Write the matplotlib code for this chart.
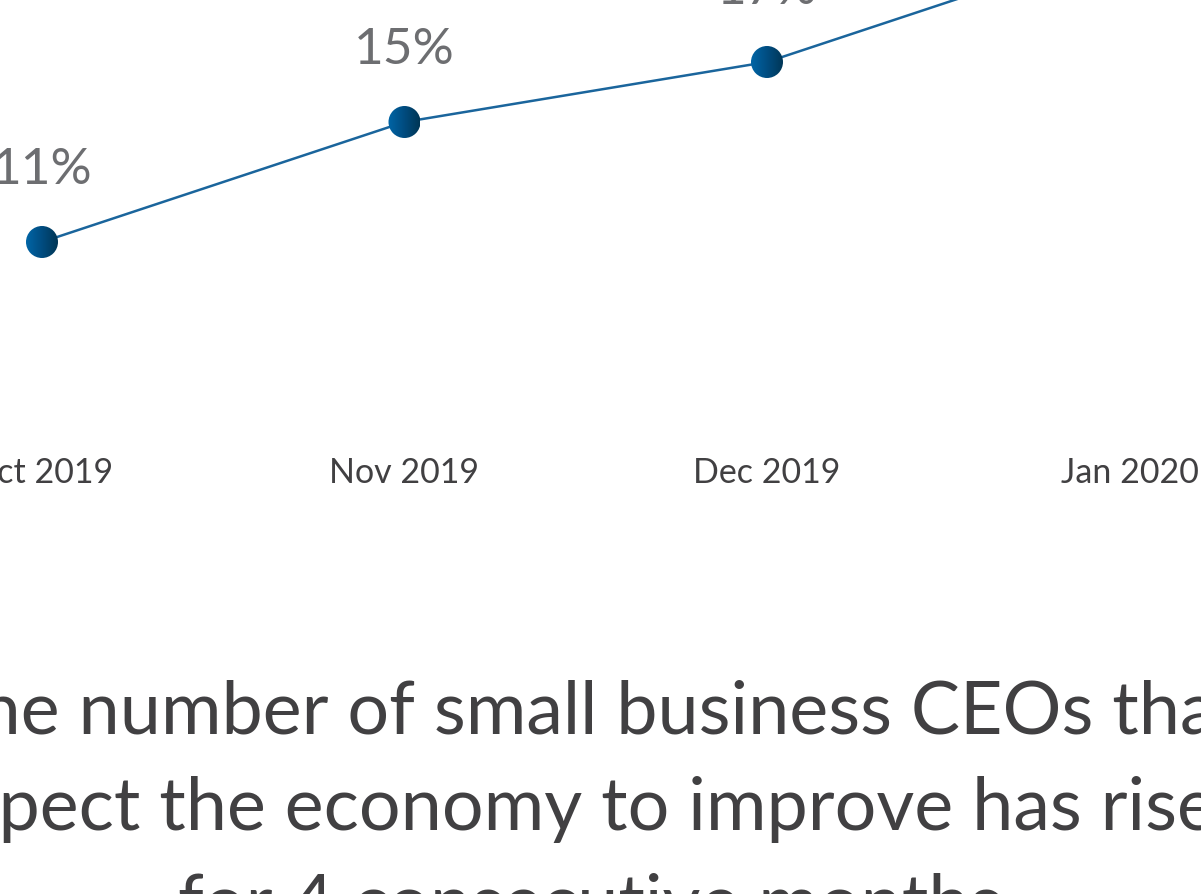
import matplotlib.pyplot as plt
import numpy as np
from matplotlib.colors import LinearSegmentedColormap
from matplotlib.patches import Ellipse
from matplotlib.transforms import blended_transform_factory

# small business CEO survey: share expecting the economy to improve
months = ['Oct 2019', 'Nov 2019', 'Dec 2019', 'Jan 2020']
pct_improve = [11, 15, 17, 21]
headline = ['The number of small business CEOs that',
            'expect the economy to improve has risen',
            'for 4 consecutive months']

line_color = '#1a659c'
label_color = '#6d6e71'
text_color = '#414042'
dot_cmap = LinearSegmentedColormap.from_list('dot', ['#0065a6', '#004c80', '#003655'])

plt.rcParams['font.family'] = ['Lato', 'DejaVu Sans']

fig = plt.figure(figsize=(12.01, 8.94), dpi=100)
fig.set_facecolor('w')
ax = fig.add_axes([0, 0, 1, 1])
ax.axis('off')

px_x = 362.5   # pixels per month
px_y = 30.0    # pixels per percentage point
ax.set_xlim(-42 / px_x, (1201 - 42) / px_x)
ax.set_ylim(15 - (894 - 122) / px_y, 15 + 122 / px_y)

x = np.arange(len(months))
ax.plot(x, pct_improve, color=line_color, linewidth=1.8, zorder=2)

# dots with a left-to-right shading
r = 16
grad = np.linspace(0, 1, 64).reshape(1, -1)
for i, v in zip(x, pct_improve):
    rx, ry = r / px_x, r / px_y
    im = ax.imshow(grad, cmap=dot_cmap, aspect='auto', zorder=3,
                   extent=[i - rx, i + rx, v - ry, v + ry])
    clip = Ellipse((i, v), 2 * rx, 2 * ry, transform=ax.transData)
    im.set_clip_path(clip)

# value labels above each point
for i, v in enumerate(pct_improve):
    ax.annotate(f'{v}%', (i, v), xytext=(0, 42), textcoords='offset points',
                ha='center', va='baseline', fontsize=37, color=label_color)

# month labels under the line
trans = blended_transform_factory(ax.transData, ax.transAxes)
for i, m in enumerate(months):
    ax.text(i, 1 - 483 / 894, m, transform=trans, ha='center', va='baseline',
            fontsize=24.5, color=text_color)

ax.set_xlim(-42 / px_x, (1201 - 42) / px_x)
ax.set_ylim(15 - (894 - 122) / px_y, 15 + 122 / px_y)

# headline, three centred lines
for k, line in enumerate(headline):
    fig.text(590 / 1201, 1 - (734 + 96 * k) / 894, line, ha='center',
             va='baseline', fontsize=53, color=text_color)

plt.savefig('out.png', dpi=100, facecolor='w')
